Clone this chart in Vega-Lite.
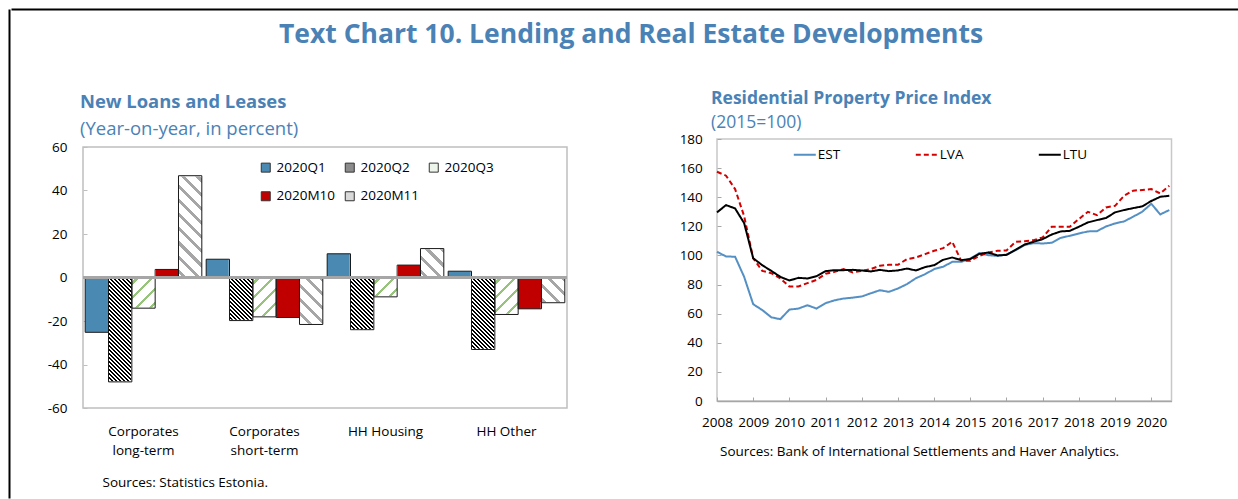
{
  "$schema": "https://vega.github.io/schema/vega-lite/v6.json",
  "padding": {"left": 8, "top": 8, "right": 0, "bottom": 0},
  "background": "white",
  "config": {
    "font": "Open Sans",
    "view": {"stroke": null},
    "axis": {"labelFont": "Open Sans", "labelFontSize": 13.5, "labelColor": "#000", "grid": false, "titleFont": "Open Sans", "titleFontWeight": "normal", "titleColor": "#000", "titleFontSize": 13.5},
    "legend": {"labelFont": "Open Sans", "labelFontSize": 13.5, "labelColor": "#000", "padding": 0},
    "title": {"font": "Open Sans", "subtitleFont": "Open Sans"}
  },
  "datasets": {
    "loans": [
      {"cat": "Corporates long-term", "series": "2020Q1", "value": -25.2},
      {"cat": "Corporates long-term", "series": "2020Q2", "value": -48.0},
      {"cat": "Corporates long-term", "series": "2020Q3", "value": -14.1},
      {"cat": "Corporates long-term", "series": "2020M10", "value": 3.7},
      {"cat": "Corporates long-term", "series": "2020M11", "value": 46.8},
      {"cat": "Corporates short-term", "series": "2020Q1", "value": 8.4},
      {"cat": "Corporates short-term", "series": "2020Q2", "value": -19.8},
      {"cat": "Corporates short-term", "series": "2020Q3", "value": -18.1},
      {"cat": "Corporates short-term", "series": "2020M10", "value": -18.4},
      {"cat": "Corporates short-term", "series": "2020M11", "value": -21.6},
      {"cat": "HH Housing", "series": "2020Q1", "value": 10.9},
      {"cat": "HH Housing", "series": "2020Q2", "value": -24.0},
      {"cat": "HH Housing", "series": "2020Q3", "value": -8.9},
      {"cat": "HH Housing", "series": "2020M10", "value": 5.7},
      {"cat": "HH Housing", "series": "2020M11", "value": 13.3},
      {"cat": "HH Other", "series": "2020Q1", "value": 2.9},
      {"cat": "HH Other", "series": "2020Q2", "value": -33.1},
      {"cat": "HH Other", "series": "2020Q3", "value": -17.0},
      {"cat": "HH Other", "series": "2020M10", "value": -14.4},
      {"cat": "HH Other", "series": "2020M11", "value": -11.6}
    ],
    "rppi": [
      {"t": 2008.00, "EST": 102.5, "LVA": 157.5, "LTU": 129.6},
      {"t": 2008.25, "EST": 99.3, "LVA": 154.8, "LTU": 134.6},
      {"t": 2008.50, "EST": 99.1, "LVA": 145.6, "LTU": 132.3},
      {"t": 2008.75, "EST": 85.3, "LVA": 127.0, "LTU": 122.2},
      {"t": 2009.00, "EST": 66.5, "LVA": 98.0, "LTU": 98.1},
      {"t": 2009.25, "EST": 62.5, "LVA": 89.4, "LTU": 93.3},
      {"t": 2009.50, "EST": 57.5, "LVA": 87.8, "LTU": 89.4},
      {"t": 2009.75, "EST": 56.2, "LVA": 84.2, "LTU": 85.3},
      {"t": 2010.00, "EST": 62.8, "LVA": 78.7, "LTU": 82.8},
      {"t": 2010.25, "EST": 63.5, "LVA": 78.7, "LTU": 84.6},
      {"t": 2010.50, "EST": 65.8, "LVA": 81.0, "LTU": 84.2},
      {"t": 2010.75, "EST": 63.5, "LVA": 83.2, "LTU": 85.8},
      {"t": 2011.00, "EST": 67.2, "LVA": 87.4, "LTU": 89.2},
      {"t": 2011.25, "EST": 69.2, "LVA": 88.7, "LTU": 89.9},
      {"t": 2011.50, "EST": 70.4, "LVA": 90.6, "LTU": 89.9},
      {"t": 2011.75, "EST": 71.0, "LVA": 88.3, "LTU": 90.1},
      {"t": 2012.00, "EST": 71.8, "LVA": 89.4, "LTU": 89.7},
      {"t": 2012.25, "EST": 74.0, "LVA": 90.6, "LTU": 89.0},
      {"t": 2012.50, "EST": 76.1, "LVA": 92.9, "LTU": 90.1},
      {"t": 2012.75, "EST": 75.0, "LVA": 93.6, "LTU": 89.2},
      {"t": 2013.00, "EST": 77.3, "LVA": 93.6, "LTU": 89.7},
      {"t": 2013.25, "EST": 80.3, "LVA": 97.5, "LTU": 91.0},
      {"t": 2013.50, "EST": 84.4, "LVA": 98.6, "LTU": 89.7},
      {"t": 2013.75, "EST": 87.1, "LVA": 100.9, "LTU": 92.0},
      {"t": 2014.00, "EST": 90.6, "LVA": 103.2, "LTU": 93.3},
      {"t": 2014.25, "EST": 92.2, "LVA": 105.0, "LTU": 97.0},
      {"t": 2014.50, "EST": 95.6, "LVA": 109.4, "LTU": 98.6},
      {"t": 2014.75, "EST": 95.6, "LVA": 96.3, "LTU": 96.8},
      {"t": 2015.00, "EST": 97.9, "LVA": 96.3, "LTU": 97.5},
      {"t": 2015.25, "EST": 101.6, "LVA": 99.7, "LTU": 101.1},
      {"t": 2015.50, "EST": 100.2, "LVA": 102.0, "LTU": 102.0},
      {"t": 2015.75, "EST": 99.7, "LVA": 103.2, "LTU": 100.0},
      {"t": 2016.00, "EST": 100.7, "LVA": 103.4, "LTU": 100.4},
      {"t": 2016.25, "EST": 103.6, "LVA": 109.4, "LTU": 103.9},
      {"t": 2016.50, "EST": 107.1, "LVA": 109.8, "LTU": 107.5},
      {"t": 2016.75, "EST": 108.5, "LVA": 110.5, "LTU": 109.4},
      {"t": 2017.00, "EST": 108.2, "LVA": 112.4, "LTU": 111.2},
      {"t": 2017.25, "EST": 108.7, "LVA": 119.7, "LTU": 114.4},
      {"t": 2017.50, "EST": 112.1, "LVA": 119.7, "LTU": 116.5},
      {"t": 2017.75, "EST": 113.5, "LVA": 119.7, "LTU": 116.9},
      {"t": 2018.00, "EST": 115.1, "LVA": 125.0, "LTU": 119.7},
      {"t": 2018.25, "EST": 116.5, "LVA": 130.0, "LTU": 122.7},
      {"t": 2018.50, "EST": 116.7, "LVA": 127.7, "LTU": 124.3},
      {"t": 2018.75, "EST": 119.9, "LVA": 133.0, "LTU": 125.7},
      {"t": 2019.00, "EST": 122.0, "LVA": 134.1, "LTU": 129.6},
      {"t": 2019.25, "EST": 123.4, "LVA": 141.0, "LTU": 131.2},
      {"t": 2019.50, "EST": 126.6, "LVA": 144.5, "LTU": 132.5},
      {"t": 2019.75, "EST": 130.0, "LVA": 145.0, "LTU": 133.7},
      {"t": 2020.00, "EST": 135.5, "LVA": 145.6, "LTU": 137.4},
      {"t": 2020.25, "EST": 128.2, "LVA": 142.6, "LTU": 140.3},
      {"t": 2020.50, "EST": 131.2, "LVA": 147.9, "LTU": 141.0}
    ]
  },
  "resolve": {"scale": {"color": "independent", "strokeDash": "independent"}, "legend": {"color": "independent", "strokeDash": "independent"}},
  "spacing": 0,
  "align": "none",
  "hconcat": [
    {
      "width": 0.5,
      "height": 489,
      "data": {"values": [{"a": 0}]},
      "mark": {"type": "point", "opacity": 0, "size": 1},
      "encoding": {
        "y": {"datum": 0, "type": "quantitative", "title": null, "scale": {"domain": [0, 1]}, "axis": {"domainColor": "#000", "domainWidth": 2, "ticks": false, "labels": false, "grid": false, "minExtent": 0, "maxExtent": 0}}
      }
    },
    {
      "spacing": 0,
      "align": "none",
      "resolve": {"scale": {"color": "independent", "strokeDash": "independent"}, "legend": {"color": "independent", "strokeDash": "independent"}},
      "vconcat": [
        {
          "width": 1227,
          "height": 0.5,
          "data": {"values": [{"a": 0}]},
          "mark": {"type": "point", "opacity": 0, "size": 1},
          "encoding": {
            "x": {"datum": 0, "type": "quantitative", "title": null, "scale": {"domain": [0, 1]}, "axis": {"orient": "top", "domainColor": "#000", "domainWidth": 2, "ticks": false, "labels": false, "grid": false, "minExtent": 0, "maxExtent": 0}}
          },
          "title": {"text": "Text Chart 10. Lending and Real Estate Developments", "orient": "bottom", "anchor": "middle", "frame": "group", "fontSize": 26.5, "fontWeight": "bold", "color": "#4a82b6", "offset": 12, "dx": 6.5}
        },
        {
          "spacing": 0,
          "align": "none",
          "resolve": {"scale": {"color": "independent", "strokeDash": "independent"}, "legend": {"color": "independent", "strokeDash": "independent"}},
          "hconcat": [
            {"width": 35, "height": 1, "data": {"values": []}, "mark": "point"},
            {
              "bounds": "flush",
              "spacing": 0,
              "vconcat": [
                {"width": 1, "height": 98, "data": {"values": []}, "mark": "point"},
                {
                  "width": 484,
                  "height": 261,
                  "view": {"stroke": "#bfbfbf", "strokeWidth": 1.5},
                  "data": {"name": "loans"},
                  "title": {"text": "New Loans and Leases", "subtitle": "(Year-on-year, in percent)", "anchor": "start", "frame": "group", "fontSize": 18.4, "fontWeight": "bold", "color": "#4a82b6", "subtitleFontSize": 18.5, "subtitleColor": "#4a82b6", "subtitlePadding": 8, "offset": 2, "dx": -3},
                  "layer": [
                    {
                      "mark": {"type": "bar"},
                      "encoding": {
                        "x": {"field": "cat", "type": "nominal", "title": "Sources: Statistics Estonia.", "scale": {"domain": ["Corporates long-term", "Corporates short-term", "HH Housing", "HH Other"], "paddingInner": 0.036, "paddingOuter": 0.018}, "axis": {"labelAngle": 0, "labelExpr": "datum.value == 'Corporates long-term' ? ['Corporates','long-term'] : datum.value == 'Corporates short-term' ? ['Corporates','short-term'] : datum.label", "labelLineHeight": 19, "labelPadding": 16.8, "labelBaseline": "top", "ticks": false, "domain": false, "titleX": 19, "titleY": 74.5, "titleAlign": "left", "titleBaseline": "middle", "titleAnchor": "start"}},
                        "xOffset": {"field": "series", "type": "nominal", "scale": {"domain": ["2020Q1", "2020Q2", "2020Q3", "2020M10", "2020M11"], "paddingInner": 0, "paddingOuter": 0}},
                        "y": {"field": "value", "type": "quantitative", "title": null, "scale": {"domain": [-60, 60], "nice": false}, "axis": {"values": [-60, -40, -20, 0, 20, 40, 60], "labelExpr": "'' + datum.value", "domain": false, "ticks": true, "tickSize": -4, "tickColor": "#bfbfbf", "labelPadding": 20}},
                        "color": {"field": "series", "type": "nominal", "scale": {"domain": ["2020Q1", "2020Q2", "2020Q3", "2020M10", "2020M11"], "range": ["#4a89b1", "#8c8c8c", "#eef5ea", "#c00000", "#d9d9d9"]}, "legend": {"orient": "none", "legendX": 176, "legendY": 111.5, "direction": "horizontal", "columns": 3, "title": null, "symbolType": "square", "symbolSize": 81, "symbolStrokeColor": "#333", "symbolStrokeWidth": 1, "labelFontSize": 13.5, "labelOffset": 4, "columnPadding": 8, "rowPadding": 14, "padding": 0}}
                      }
                    },
                    {
                      "transform": [{"filter": "datum.series !== '2020Q1' && datum.series !== '2020M10'"}],
                      "mark": {"type": "bar"},
                      "encoding": {
                        "x": {"field": "cat", "type": "nominal", "title": "Sources: Statistics Estonia.", "scale": {"domain": ["Corporates long-term", "Corporates short-term", "HH Housing", "HH Other"], "paddingInner": 0.036, "paddingOuter": 0.018}, "axis": {"labelAngle": 0, "labelExpr": "datum.value == 'Corporates long-term' ? ['Corporates','long-term'] : datum.value == 'Corporates short-term' ? ['Corporates','short-term'] : datum.label", "labelLineHeight": 19, "labelPadding": 16.8, "labelBaseline": "top", "ticks": false, "domain": false, "titleX": 19, "titleY": 74.5, "titleAlign": "left", "titleBaseline": "middle", "titleAnchor": "start"}},
                        "xOffset": {"field": "series", "type": "nominal", "scale": {"domain": ["2020Q1", "2020Q2", "2020Q3", "2020M10", "2020M11"], "paddingInner": 0, "paddingOuter": 0}},
                        "y": {"datum": -50, "type": "quantitative", "title": null, "scale": {"domain": [-60, 60], "nice": false}, "axis": {"values": [-60, -40, -20, 0, 20, 40, 60], "labelExpr": "'' + datum.value", "domain": false, "ticks": true, "tickSize": -4, "tickColor": "#bfbfbf", "labelPadding": 20}},
                        "y2": {"datum": 50},
                        "fill": {
                          "condition": [
                            {"test": "datum.series === '2020Q2'", "value": {"gradient": "linear", "x1": 0, "y1": 1, "x2": 0.11726, "y2": -0.09457, "stops": [
                              {"offset": 0, "color": "#000"}, {"offset": 0.0075, "color": "#000"}, {"offset": 0.0075, "color": "#fff"}, {"offset": 0.0167, "color": "#fff"},
                              {"offset": 0.0167, "color": "#000"}, {"offset": 0.0242, "color": "#000"}, {"offset": 0.0242, "color": "#fff"}, {"offset": 0.0333, "color": "#fff"},
                              {"offset": 0.0333, "color": "#000"}, {"offset": 0.0408, "color": "#000"}, {"offset": 0.0408, "color": "#fff"}, {"offset": 0.05, "color": "#fff"},
                              {"offset": 0.05, "color": "#000"}, {"offset": 0.0575, "color": "#000"}, {"offset": 0.0575, "color": "#fff"}, {"offset": 0.0667, "color": "#fff"},
                              {"offset": 0.0667, "color": "#000"}, {"offset": 0.0742, "color": "#000"}, {"offset": 0.0742, "color": "#fff"}, {"offset": 0.0833, "color": "#fff"},
                              {"offset": 0.0833, "color": "#000"}, {"offset": 0.0908, "color": "#000"}, {"offset": 0.0908, "color": "#fff"}, {"offset": 0.1, "color": "#fff"},
                              {"offset": 0.1, "color": "#000"}, {"offset": 0.1075, "color": "#000"}, {"offset": 0.1075, "color": "#fff"}, {"offset": 0.1167, "color": "#fff"},
                              {"offset": 0.1167, "color": "#000"}, {"offset": 0.1242, "color": "#000"}, {"offset": 0.1242, "color": "#fff"}, {"offset": 0.1333, "color": "#fff"},
                              {"offset": 0.1333, "color": "#000"}, {"offset": 0.1408, "color": "#000"}, {"offset": 0.1408, "color": "#fff"}, {"offset": 0.15, "color": "#fff"},
                              {"offset": 0.15, "color": "#000"}, {"offset": 0.1575, "color": "#000"}, {"offset": 0.1575, "color": "#fff"}, {"offset": 0.1667, "color": "#fff"},
                              {"offset": 0.1667, "color": "#000"}, {"offset": 0.1742, "color": "#000"}, {"offset": 0.1742, "color": "#fff"}, {"offset": 0.1833, "color": "#fff"},
                              {"offset": 0.1833, "color": "#000"}, {"offset": 0.1908, "color": "#000"}, {"offset": 0.1908, "color": "#fff"}, {"offset": 0.2, "color": "#fff"},
                              {"offset": 0.2, "color": "#000"}, {"offset": 0.2075, "color": "#000"}, {"offset": 0.2075, "color": "#fff"}, {"offset": 0.2167, "color": "#fff"},
                              {"offset": 0.2167, "color": "#000"}, {"offset": 0.2242, "color": "#000"}, {"offset": 0.2242, "color": "#fff"}, {"offset": 0.2333, "color": "#fff"},
                              {"offset": 0.2333, "color": "#000"}, {"offset": 0.2408, "color": "#000"}, {"offset": 0.2408, "color": "#fff"}, {"offset": 0.25, "color": "#fff"},
                              {"offset": 0.25, "color": "#000"}, {"offset": 0.2575, "color": "#000"}, {"offset": 0.2575, "color": "#fff"}, {"offset": 0.2667, "color": "#fff"},
                              {"offset": 0.2667, "color": "#000"}, {"offset": 0.2742, "color": "#000"}, {"offset": 0.2742, "color": "#fff"}, {"offset": 0.2833, "color": "#fff"},
                              {"offset": 0.2833, "color": "#000"}, {"offset": 0.2908, "color": "#000"}, {"offset": 0.2908, "color": "#fff"}, {"offset": 0.3, "color": "#fff"},
                              {"offset": 0.3, "color": "#000"}, {"offset": 0.3075, "color": "#000"}, {"offset": 0.3075, "color": "#fff"}, {"offset": 0.3167, "color": "#fff"},
                              {"offset": 0.3167, "color": "#000"}, {"offset": 0.3242, "color": "#000"}, {"offset": 0.3242, "color": "#fff"}, {"offset": 0.3333, "color": "#fff"},
                              {"offset": 0.3333, "color": "#000"}, {"offset": 0.3408, "color": "#000"}, {"offset": 0.3408, "color": "#fff"}, {"offset": 0.35, "color": "#fff"},
                              {"offset": 0.35, "color": "#000"}, {"offset": 0.3575, "color": "#000"}, {"offset": 0.3575, "color": "#fff"}, {"offset": 0.3667, "color": "#fff"},
                              {"offset": 0.3667, "color": "#000"}, {"offset": 0.3742, "color": "#000"}, {"offset": 0.3742, "color": "#fff"}, {"offset": 0.3833, "color": "#fff"},
                              {"offset": 0.3833, "color": "#000"}, {"offset": 0.3908, "color": "#000"}, {"offset": 0.3908, "color": "#fff"}, {"offset": 0.4, "color": "#fff"},
                              {"offset": 0.4, "color": "#000"}, {"offset": 0.4075, "color": "#000"}, {"offset": 0.4075, "color": "#fff"}, {"offset": 0.4167, "color": "#fff"},
                              {"offset": 0.4167, "color": "#000"}, {"offset": 0.4242, "color": "#000"}, {"offset": 0.4242, "color": "#fff"}, {"offset": 0.4333, "color": "#fff"},
                              {"offset": 0.4333, "color": "#000"}, {"offset": 0.4408, "color": "#000"}, {"offset": 0.4408, "color": "#fff"}, {"offset": 0.45, "color": "#fff"},
                              {"offset": 0.45, "color": "#000"}, {"offset": 0.4575, "color": "#000"}, {"offset": 0.4575, "color": "#fff"}, {"offset": 0.4667, "color": "#fff"},
                              {"offset": 0.4667, "color": "#000"}, {"offset": 0.4742, "color": "#000"}, {"offset": 0.4742, "color": "#fff"}, {"offset": 0.4833, "color": "#fff"},
                              {"offset": 0.4833, "color": "#000"}, {"offset": 0.4908, "color": "#000"}, {"offset": 0.4908, "color": "#fff"}, {"offset": 0.5, "color": "#fff"},
                              {"offset": 0.5, "color": "#000"}, {"offset": 0.5075, "color": "#000"}, {"offset": 0.5075, "color": "#fff"}, {"offset": 0.5167, "color": "#fff"},
                              {"offset": 0.5167, "color": "#000"}, {"offset": 0.5242, "color": "#000"}, {"offset": 0.5242, "color": "#fff"}, {"offset": 0.5333, "color": "#fff"},
                              {"offset": 0.5333, "color": "#000"}, {"offset": 0.5408, "color": "#000"}, {"offset": 0.5408, "color": "#fff"}, {"offset": 0.55, "color": "#fff"},
                              {"offset": 0.55, "color": "#000"}, {"offset": 0.5575, "color": "#000"}, {"offset": 0.5575, "color": "#fff"}, {"offset": 0.5667, "color": "#fff"},
                              {"offset": 0.5667, "color": "#000"}, {"offset": 0.5742, "color": "#000"}, {"offset": 0.5742, "color": "#fff"}, {"offset": 0.5833, "color": "#fff"},
                              {"offset": 0.5833, "color": "#000"}, {"offset": 0.5908, "color": "#000"}, {"offset": 0.5908, "color": "#fff"}, {"offset": 0.6, "color": "#fff"},
                              {"offset": 0.6, "color": "#000"}, {"offset": 0.6075, "color": "#000"}, {"offset": 0.6075, "color": "#fff"}, {"offset": 0.6167, "color": "#fff"},
                              {"offset": 0.6167, "color": "#000"}, {"offset": 0.6242, "color": "#000"}, {"offset": 0.6242, "color": "#fff"}, {"offset": 0.6333, "color": "#fff"},
                              {"offset": 0.6333, "color": "#000"}, {"offset": 0.6408, "color": "#000"}, {"offset": 0.6408, "color": "#fff"}, {"offset": 0.65, "color": "#fff"},
                              {"offset": 0.65, "color": "#000"}, {"offset": 0.6575, "color": "#000"}, {"offset": 0.6575, "color": "#fff"}, {"offset": 0.6667, "color": "#fff"},
                              {"offset": 0.6667, "color": "#000"}, {"offset": 0.6742, "color": "#000"}, {"offset": 0.6742, "color": "#fff"}, {"offset": 0.6833, "color": "#fff"},
                              {"offset": 0.6833, "color": "#000"}, {"offset": 0.6908, "color": "#000"}, {"offset": 0.6908, "color": "#fff"}, {"offset": 0.7, "color": "#fff"},
                              {"offset": 0.7, "color": "#000"}, {"offset": 0.7075, "color": "#000"}, {"offset": 0.7075, "color": "#fff"}, {"offset": 0.7167, "color": "#fff"},
                              {"offset": 0.7167, "color": "#000"}, {"offset": 0.7242, "color": "#000"}, {"offset": 0.7242, "color": "#fff"}, {"offset": 0.7333, "color": "#fff"},
                              {"offset": 0.7333, "color": "#000"}, {"offset": 0.7408, "color": "#000"}, {"offset": 0.7408, "color": "#fff"}, {"offset": 0.75, "color": "#fff"},
                              {"offset": 0.75, "color": "#000"}, {"offset": 0.7575, "color": "#000"}, {"offset": 0.7575, "color": "#fff"}, {"offset": 0.7667, "color": "#fff"},
                              {"offset": 0.7667, "color": "#000"}, {"offset": 0.7742, "color": "#000"}, {"offset": 0.7742, "color": "#fff"}, {"offset": 0.7833, "color": "#fff"},
                              {"offset": 0.7833, "color": "#000"}, {"offset": 0.7908, "color": "#000"}, {"offset": 0.7908, "color": "#fff"}, {"offset": 0.8, "color": "#fff"},
                              {"offset": 0.8, "color": "#000"}, {"offset": 0.8075, "color": "#000"}, {"offset": 0.8075, "color": "#fff"}, {"offset": 0.8167, "color": "#fff"},
                              {"offset": 0.8167, "color": "#000"}, {"offset": 0.8242, "color": "#000"}, {"offset": 0.8242, "color": "#fff"}, {"offset": 0.8333, "color": "#fff"},
                              {"offset": 0.8333, "color": "#000"}, {"offset": 0.8408, "color": "#000"}, {"offset": 0.8408, "color": "#fff"}, {"offset": 0.85, "color": "#fff"},
                              {"offset": 0.85, "color": "#000"}, {"offset": 0.8575, "color": "#000"}, {"offset": 0.8575, "color": "#fff"}, {"offset": 0.8667, "color": "#fff"},
                              {"offset": 0.8667, "color": "#000"}, {"offset": 0.8742, "color": "#000"}, {"offset": 0.8742, "color": "#fff"}, {"offset": 0.8833, "color": "#fff"},
                              {"offset": 0.8833, "color": "#000"}, {"offset": 0.8908, "color": "#000"}, {"offset": 0.8908, "color": "#fff"}, {"offset": 0.9, "color": "#fff"},
                              {"offset": 0.9, "color": "#000"}, {"offset": 0.9075, "color": "#000"}, {"offset": 0.9075, "color": "#fff"}, {"offset": 0.9167, "color": "#fff"},
                              {"offset": 0.9167, "color": "#000"}, {"offset": 0.9242, "color": "#000"}, {"offset": 0.9242, "color": "#fff"}, {"offset": 0.9333, "color": "#fff"},
                              {"offset": 0.9333, "color": "#000"}, {"offset": 0.9408, "color": "#000"}, {"offset": 0.9408, "color": "#fff"}, {"offset": 0.95, "color": "#fff"},
                              {"offset": 0.95, "color": "#000"}, {"offset": 0.9575, "color": "#000"}, {"offset": 0.9575, "color": "#fff"}, {"offset": 0.9667, "color": "#fff"},
                              {"offset": 0.9667, "color": "#000"}, {"offset": 0.9742, "color": "#000"}, {"offset": 0.9742, "color": "#fff"}, {"offset": 0.9833, "color": "#fff"},
                              {"offset": 0.9833, "color": "#000"}, {"offset": 0.9908, "color": "#000"}, {"offset": 0.9908, "color": "#fff"}, {"offset": 1, "color": "#fff"}
                            ]}},
                            {"test": "datum.series === '2020Q3'", "value": {"gradient": "linear", "x1": 0, "y1": 0, "x2": 0.11726, "y2": 1.09457, "stops": [
                              {"offset": 0, "color": "#95c47a"}, {"offset": 0.0147, "color": "#95c47a"}, {"offset": 0.0147, "color": "#fff"}, {"offset": 0.0588, "color": "#fff"},
                              {"offset": 0.0588, "color": "#95c47a"}, {"offset": 0.0735, "color": "#95c47a"}, {"offset": 0.0735, "color": "#fff"}, {"offset": 0.1176, "color": "#fff"},
                              {"offset": 0.1176, "color": "#95c47a"}, {"offset": 0.1323, "color": "#95c47a"}, {"offset": 0.1323, "color": "#fff"}, {"offset": 0.1765, "color": "#fff"},
                              {"offset": 0.1765, "color": "#95c47a"}, {"offset": 0.1912, "color": "#95c47a"}, {"offset": 0.1912, "color": "#fff"}, {"offset": 0.2353, "color": "#fff"},
                              {"offset": 0.2353, "color": "#95c47a"}, {"offset": 0.25, "color": "#95c47a"}, {"offset": 0.25, "color": "#fff"}, {"offset": 0.2941, "color": "#fff"},
                              {"offset": 0.2941, "color": "#95c47a"}, {"offset": 0.3088, "color": "#95c47a"}, {"offset": 0.3088, "color": "#fff"}, {"offset": 0.3529, "color": "#fff"},
                              {"offset": 0.3529, "color": "#95c47a"}, {"offset": 0.3676, "color": "#95c47a"}, {"offset": 0.3676, "color": "#fff"}, {"offset": 0.4118, "color": "#fff"},
                              {"offset": 0.4118, "color": "#95c47a"}, {"offset": 0.4265, "color": "#95c47a"}, {"offset": 0.4265, "color": "#fff"}, {"offset": 0.4706, "color": "#fff"},
                              {"offset": 0.4706, "color": "#95c47a"}, {"offset": 0.4853, "color": "#95c47a"}, {"offset": 0.4853, "color": "#fff"}, {"offset": 0.5294, "color": "#fff"},
                              {"offset": 0.5294, "color": "#95c47a"}, {"offset": 0.5441, "color": "#95c47a"}, {"offset": 0.5441, "color": "#fff"}, {"offset": 0.5882, "color": "#fff"},
                              {"offset": 0.5882, "color": "#95c47a"}, {"offset": 0.6029, "color": "#95c47a"}, {"offset": 0.6029, "color": "#fff"}, {"offset": 0.6471, "color": "#fff"},
                              {"offset": 0.6471, "color": "#95c47a"}, {"offset": 0.6618, "color": "#95c47a"}, {"offset": 0.6618, "color": "#fff"}, {"offset": 0.7059, "color": "#fff"},
                              {"offset": 0.7059, "color": "#95c47a"}, {"offset": 0.7206, "color": "#95c47a"}, {"offset": 0.7206, "color": "#fff"}, {"offset": 0.7647, "color": "#fff"},
                              {"offset": 0.7647, "color": "#95c47a"}, {"offset": 0.7794, "color": "#95c47a"}, {"offset": 0.7794, "color": "#fff"}, {"offset": 0.8235, "color": "#fff"},
                              {"offset": 0.8235, "color": "#95c47a"}, {"offset": 0.8382, "color": "#95c47a"}, {"offset": 0.8382, "color": "#fff"}, {"offset": 0.8824, "color": "#fff"},
                              {"offset": 0.8824, "color": "#95c47a"}, {"offset": 0.8971, "color": "#95c47a"}, {"offset": 0.8971, "color": "#fff"}, {"offset": 0.9412, "color": "#fff"},
                              {"offset": 0.9412, "color": "#95c47a"}, {"offset": 0.9559, "color": "#95c47a"}, {"offset": 0.9559, "color": "#fff"}, {"offset": 1, "color": "#fff"}
                            ]}}
                          ],
                          "value": {"gradient": "linear", "x1": 0, "y1": 1, "x2": 0.11726, "y2": -0.09457, "stops": [
                            {"offset": 0, "color": "#a6a6a6"}, {"offset": 0.0176, "color": "#a6a6a6"}, {"offset": 0.0176, "color": "#fff"}, {"offset": 0.0588, "color": "#fff"},
                            {"offset": 0.0588, "color": "#a6a6a6"}, {"offset": 0.0764, "color": "#a6a6a6"}, {"offset": 0.0764, "color": "#fff"}, {"offset": 0.1176, "color": "#fff"},
                            {"offset": 0.1176, "color": "#a6a6a6"}, {"offset": 0.1352, "color": "#a6a6a6"}, {"offset": 0.1352, "color": "#fff"}, {"offset": 0.1765, "color": "#fff"},
                            {"offset": 0.1765, "color": "#a6a6a6"}, {"offset": 0.1941, "color": "#a6a6a6"}, {"offset": 0.1941, "color": "#fff"}, {"offset": 0.2353, "color": "#fff"},
                            {"offset": 0.2353, "color": "#a6a6a6"}, {"offset": 0.2529, "color": "#a6a6a6"}, {"offset": 0.2529, "color": "#fff"}, {"offset": 0.2941, "color": "#fff"},
                            {"offset": 0.2941, "color": "#a6a6a6"}, {"offset": 0.3117, "color": "#a6a6a6"}, {"offset": 0.3117, "color": "#fff"}, {"offset": 0.3529, "color": "#fff"},
                            {"offset": 0.3529, "color": "#a6a6a6"}, {"offset": 0.3705, "color": "#a6a6a6"}, {"offset": 0.3705, "color": "#fff"}, {"offset": 0.4118, "color": "#fff"},
                            {"offset": 0.4118, "color": "#a6a6a6"}, {"offset": 0.4294, "color": "#a6a6a6"}, {"offset": 0.4294, "color": "#fff"}, {"offset": 0.4706, "color": "#fff"},
                            {"offset": 0.4706, "color": "#a6a6a6"}, {"offset": 0.4882, "color": "#a6a6a6"}, {"offset": 0.4882, "color": "#fff"}, {"offset": 0.5294, "color": "#fff"},
                            {"offset": 0.5294, "color": "#a6a6a6"}, {"offset": 0.547, "color": "#a6a6a6"}, {"offset": 0.547, "color": "#fff"}, {"offset": 0.5882, "color": "#fff"},
                            {"offset": 0.5882, "color": "#a6a6a6"}, {"offset": 0.6058, "color": "#a6a6a6"}, {"offset": 0.6058, "color": "#fff"}, {"offset": 0.6471, "color": "#fff"},
                            {"offset": 0.6471, "color": "#a6a6a6"}, {"offset": 0.6647, "color": "#a6a6a6"}, {"offset": 0.6647, "color": "#fff"}, {"offset": 0.7059, "color": "#fff"},
                            {"offset": 0.7059, "color": "#a6a6a6"}, {"offset": 0.7235, "color": "#a6a6a6"}, {"offset": 0.7235, "color": "#fff"}, {"offset": 0.7647, "color": "#fff"},
                            {"offset": 0.7647, "color": "#a6a6a6"}, {"offset": 0.7823, "color": "#a6a6a6"}, {"offset": 0.7823, "color": "#fff"}, {"offset": 0.8235, "color": "#fff"},
                            {"offset": 0.8235, "color": "#a6a6a6"}, {"offset": 0.8411, "color": "#a6a6a6"}, {"offset": 0.8411, "color": "#fff"}, {"offset": 0.8824, "color": "#fff"},
                            {"offset": 0.8824, "color": "#a6a6a6"}, {"offset": 0.9, "color": "#a6a6a6"}, {"offset": 0.9, "color": "#fff"}, {"offset": 0.9412, "color": "#fff"},
                            {"offset": 0.9412, "color": "#a6a6a6"}, {"offset": 0.9588, "color": "#a6a6a6"}, {"offset": 0.9588, "color": "#fff"}, {"offset": 1, "color": "#fff"}
                          ]}
                        }
                      }
                    },
                    {
                      "transform": [{"filter": "datum.series !== '2020Q1' && datum.series !== '2020M10' && datum.value >= 0"}],
                      "mark": {"type": "bar", "color": "#ffffff", "stroke": "#ffffff", "strokeWidth": 1.5},
                      "encoding": {
                        "x": {"field": "cat", "type": "nominal", "title": "Sources: Statistics Estonia.", "scale": {"domain": ["Corporates long-term", "Corporates short-term", "HH Housing", "HH Other"], "paddingInner": 0.036, "paddingOuter": 0.018}, "axis": {"labelAngle": 0, "labelExpr": "datum.value == 'Corporates long-term' ? ['Corporates','long-term'] : datum.value == 'Corporates short-term' ? ['Corporates','short-term'] : datum.label", "labelLineHeight": 19, "labelPadding": 16.8, "labelBaseline": "top", "ticks": false, "domain": false, "titleX": 19, "titleY": 74.5, "titleAlign": "left", "titleBaseline": "middle", "titleAnchor": "start"}},
                        "xOffset": {"field": "series", "type": "nominal", "scale": {"domain": ["2020Q1", "2020Q2", "2020Q3", "2020M10", "2020M11"], "paddingInner": 0, "paddingOuter": 0}},
                        "y": {"field": "value", "type": "quantitative", "title": null, "scale": {"domain": [-60, 60], "nice": false}, "axis": {"values": [-60, -40, -20, 0, 20, 40, 60], "labelExpr": "'' + datum.value", "domain": false, "ticks": true, "tickSize": -4, "tickColor": "#bfbfbf", "labelPadding": 20}},
                        "y2": {"datum": 50}
                      }
                    },
                    {
                      "transform": [{"filter": "datum.series !== '2020Q1' && datum.series !== '2020M10' && datum.value >= 0"}],
                      "mark": {"type": "bar", "color": "#ffffff", "stroke": "#ffffff", "strokeWidth": 1.5},
                      "encoding": {
                        "x": {"field": "cat", "type": "nominal", "title": "Sources: Statistics Estonia.", "scale": {"domain": ["Corporates long-term", "Corporates short-term", "HH Housing", "HH Other"], "paddingInner": 0.036, "paddingOuter": 0.018}, "axis": {"labelAngle": 0, "labelExpr": "datum.value == 'Corporates long-term' ? ['Corporates','long-term'] : datum.value == 'Corporates short-term' ? ['Corporates','short-term'] : datum.label", "labelLineHeight": 19, "labelPadding": 16.8, "labelBaseline": "top", "ticks": false, "domain": false, "titleX": 19, "titleY": 74.5, "titleAlign": "left", "titleBaseline": "middle", "titleAnchor": "start"}},
                        "xOffset": {"field": "series", "type": "nominal", "scale": {"domain": ["2020Q1", "2020Q2", "2020Q3", "2020M10", "2020M11"], "paddingInner": 0, "paddingOuter": 0}},
                        "y": {"datum": -50, "type": "quantitative", "title": null, "scale": {"domain": [-60, 60], "nice": false}, "axis": {"values": [-60, -40, -20, 0, 20, 40, 60], "labelExpr": "'' + datum.value", "domain": false, "ticks": true, "tickSize": -4, "tickColor": "#bfbfbf", "labelPadding": 20}},
                        "y2": {"datum": 0}
                      }
                    },
                    {
                      "transform": [{"filter": "datum.series !== '2020Q1' && datum.series !== '2020M10' && datum.value < 0"}],
                      "mark": {"type": "bar", "color": "#ffffff", "stroke": "#ffffff", "strokeWidth": 1.5},
                      "encoding": {
                        "x": {"field": "cat", "type": "nominal", "title": "Sources: Statistics Estonia.", "scale": {"domain": ["Corporates long-term", "Corporates short-term", "HH Housing", "HH Other"], "paddingInner": 0.036, "paddingOuter": 0.018}, "axis": {"labelAngle": 0, "labelExpr": "datum.value == 'Corporates long-term' ? ['Corporates','long-term'] : datum.value == 'Corporates short-term' ? ['Corporates','short-term'] : datum.label", "labelLineHeight": 19, "labelPadding": 16.8, "labelBaseline": "top", "ticks": false, "domain": false, "titleX": 19, "titleY": 74.5, "titleAlign": "left", "titleBaseline": "middle", "titleAnchor": "start"}},
                        "xOffset": {"field": "series", "type": "nominal", "scale": {"domain": ["2020Q1", "2020Q2", "2020Q3", "2020M10", "2020M11"], "paddingInner": 0, "paddingOuter": 0}},
                        "y": {"datum": 0, "type": "quantitative", "title": null, "scale": {"domain": [-60, 60], "nice": false}, "axis": {"values": [-60, -40, -20, 0, 20, 40, 60], "labelExpr": "'' + datum.value", "domain": false, "ticks": true, "tickSize": -4, "tickColor": "#bfbfbf", "labelPadding": 20}},
                        "y2": {"datum": 50}
                      }
                    },
                    {
                      "transform": [{"filter": "datum.series !== '2020Q1' && datum.series !== '2020M10' && datum.value < 0"}],
                      "mark": {"type": "bar", "color": "#ffffff", "stroke": "#ffffff", "strokeWidth": 1.5},
                      "encoding": {
                        "x": {"field": "cat", "type": "nominal", "title": "Sources: Statistics Estonia.", "scale": {"domain": ["Corporates long-term", "Corporates short-term", "HH Housing", "HH Other"], "paddingInner": 0.036, "paddingOuter": 0.018}, "axis": {"labelAngle": 0, "labelExpr": "datum.value == 'Corporates long-term' ? ['Corporates','long-term'] : datum.value == 'Corporates short-term' ? ['Corporates','short-term'] : datum.label", "labelLineHeight": 19, "labelPadding": 16.8, "labelBaseline": "top", "ticks": false, "domain": false, "titleX": 19, "titleY": 74.5, "titleAlign": "left", "titleBaseline": "middle", "titleAnchor": "start"}},
                        "xOffset": {"field": "series", "type": "nominal", "scale": {"domain": ["2020Q1", "2020Q2", "2020Q3", "2020M10", "2020M11"], "paddingInner": 0, "paddingOuter": 0}},
                        "y": {"field": "value", "type": "quantitative", "title": null, "scale": {"domain": [-60, 60], "nice": false}, "axis": {"values": [-60, -40, -20, 0, 20, 40, 60], "labelExpr": "'' + datum.value", "domain": false, "ticks": true, "tickSize": -4, "tickColor": "#bfbfbf", "labelPadding": 20}},
                        "y2": {"datum": -50}
                      }
                    },
                    {
                      "mark": {"type": "bar", "fill": "transparent", "stroke": "#1a1a1a", "strokeWidth": 1},
                      "encoding": {
                        "x": {"field": "cat", "type": "nominal", "title": "Sources: Statistics Estonia.", "scale": {"domain": ["Corporates long-term", "Corporates short-term", "HH Housing", "HH Other"], "paddingInner": 0.036, "paddingOuter": 0.018}, "axis": {"labelAngle": 0, "labelExpr": "datum.value == 'Corporates long-term' ? ['Corporates','long-term'] : datum.value == 'Corporates short-term' ? ['Corporates','short-term'] : datum.label", "labelLineHeight": 19, "labelPadding": 16.8, "labelBaseline": "top", "ticks": false, "domain": false, "titleX": 19, "titleY": 74.5, "titleAlign": "left", "titleBaseline": "middle", "titleAnchor": "start"}},
                        "xOffset": {"field": "series", "type": "nominal", "scale": {"domain": ["2020Q1", "2020Q2", "2020Q3", "2020M10", "2020M11"], "paddingInner": 0, "paddingOuter": 0}},
                        "y": {"field": "value", "type": "quantitative", "title": null, "scale": {"domain": [-60, 60], "nice": false}, "axis": {"values": [-60, -40, -20, 0, 20, 40, 60], "labelExpr": "'' + datum.value", "domain": false, "ticks": true, "tickSize": -4, "tickColor": "#bfbfbf", "labelPadding": 20}}
                      }
                    },
                    {
                      "mark": {"type": "rule", "color": "#a6a6a6", "strokeWidth": 2},
                      "encoding": {
                        "y": {"datum": 0, "type": "quantitative", "title": null, "scale": {"domain": [-60, 60], "nice": false}, "axis": {"values": [-60, -40, -20, 0, 20, 40, 60], "labelExpr": "'' + datum.value", "domain": false, "ticks": true, "tickSize": -4, "tickColor": "#bfbfbf", "labelPadding": 20}}
                      }
                    }
                  ]
                }
              ]
            },
            {"width": 101.35, "height": 1, "data": {"values": []}, "mark": "point"},
            {
              "bounds": "flush",
              "spacing": 0,
              "vconcat": [
                {"width": 1, "height": 90, "data": {"values": []}, "mark": "point"},
                {
                  "width": 454.5,
                  "height": 262,
                  "view": {"stroke": "#c8c8c8", "strokeWidth": 1.5},
                  "data": {"name": "rppi"},
                  "transform": [{"fold": ["EST", "LVA", "LTU"], "as": ["c", "v"]}],
                  "title": {"text": "Residential Property Price Index", "subtitle": "(2015=100)", "anchor": "start", "frame": "group", "fontSize": 17.5, "fontWeight": "bold", "color": "#4a82b6", "subtitleFontSize": 17.5, "subtitleColor": "#4a82b6", "subtitlePadding": 7, "offset": 0.5, "dx": -6},
                  "mark": {"type": "line", "strokeWidth": 2},
                  "encoding": {
                    "x": {"field": "t", "type": "quantitative", "title": "Sources: Bank of International Settlements and Haver Analytics.", "scale": {"domain": [2008, 2020.56], "nice": false, "zero": false}, "axis": {"values": [2008, 2009, 2010, 2011, 2012, 2013, 2014, 2015, 2016, 2017, 2018, 2019, 2020], "format": "d", "labelFlush": false, "labelOverlap": false, "labelPadding": 18, "tickSize": -4, "tickColor": "#a6a6a6", "domainColor": "#a6a6a6", "domainWidth": 1.5, "titleX": 2.5, "titleY": 50, "titleAlign": "left", "titleBaseline": "middle", "titleAnchor": "start"}},
                    "y": {"field": "v", "type": "quantitative", "title": null, "scale": {"domain": [0, 180], "nice": false}, "axis": {"values": [0, 20, 40, 60, 80, 100, 120, 140, 160, 180], "labelPadding": 18.7, "tickSize": -4, "tickColor": "#a6a6a6", "domain": false, "minExtent": 45, "maxExtent": 45}},
                    "color": {"field": "c", "type": "nominal", "scale": {"domain": ["EST", "LVA", "LTU"], "range": ["#5590c4", "#d40000", "#000000"]}, "legend": {"orient": "none", "legendX": 75.8, "legendY": 93.5, "direction": "horizontal", "title": null, "symbolType": "stroke", "symbolSize": 484, "symbolStrokeWidth": 2, "labelOffset": 1, "columnPadding": 71, "labelFontSize": 13.5, "padding": 0}},
                    "strokeDash": {"field": "c", "type": "nominal", "scale": {"domain": ["EST", "LVA", "LTU"], "range": [[1, 0], [5, 3], [1, 0]]}, "legend": {"orient": "none", "legendX": 75.8, "legendY": 93.5, "direction": "horizontal", "title": null, "symbolType": "stroke", "symbolSize": 484, "symbolStrokeWidth": 2, "labelOffset": 1, "columnPadding": 71, "labelFontSize": 13.5, "padding": 0}}
                  }
                }
              ]
            }
          ]
        }
      ]
    }
  ]
}
